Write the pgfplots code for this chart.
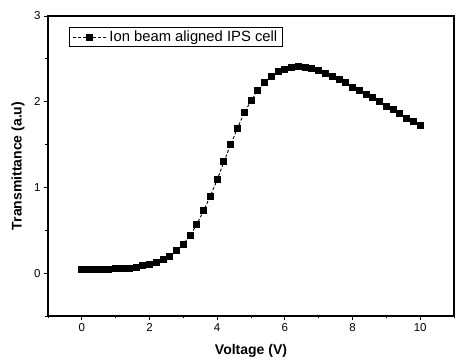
\documentclass[border=0pt]{standalone}
\usepackage{fontspec}
\setmainfont{Liberation Sans}
\usepackage{pgfplots}
\pgfplotsset{compat=1.18}
\begin{document}
\begin{tikzpicture}
\useasboundingbox (0,0) rectangle (456pt,361pt);
\begin{axis}[
  at={(48pt,45pt)}, anchor=south west,
  scale only axis, width=406pt, height=300pt,
  xmin=-1, xmax=11, ymin=-0.5, ymax=3,
  xtick={0,2,4,6,8,10}, minor xtick={-1,1,3,5,7,9,11},
  ytick={0,1,2,3}, minor ytick={-0.5,0.5,1.5,2.5},
  xtick pos=bottom, ytick pos=left,
  tick align=outside,
  major tick length=4pt, minor tick length=2.5pt,
  axis line style={line width=1.1pt},
  every tick/.style={black, line width=0.9pt},
  /pgf/number format/assume math mode=true,
  ticklabel style={font=\fontsize{11.5}{13}\selectfont},
  xlabel={\textbf{Voltage (V)}},
  ylabel={\textbf{Transmittance (a.u)}},
  label style={font=\fontsize{14}{16}\selectfont},
  xlabel style={at={(axis description cs:0.5,0)}, anchor=north, yshift=-25pt},
  ylabel style={at={(axis description cs:0,0.5)}, anchor=south, yshift=20pt},
  legend style={at={(axis description cs:0.052,0.963)}, anchor=north west,
    draw=black, line width=0.8pt, font=\fontsize{14.8}{16}\selectfont,
    inner xsep=3pt, inner ysep=1.5pt, row sep=0pt},
  legend cell align=left,
  legend image code/.code={
    \draw[#1, mark=none] (0pt,0pt) -- (34pt,0pt);
    \draw[#1, only marks] plot coordinates {(16pt,0pt)};
  },
]
\addplot[black, line width=0.9pt, dash pattern=on 3pt off 2pt,
  mark=square*, mark size=3pt, mark options={solid}] coordinates {
(0.0,0.04) (0.2,0.04) (0.4,0.04) (0.6,0.04) (0.8,0.045) (1.0,0.05)
(1.2,0.055) (1.4,0.06) (1.6,0.07) (1.8,0.085) (2.0,0.10) (2.2,0.125)
(2.4,0.16) (2.6,0.20) (2.8,0.26) (3.0,0.34) (3.2,0.44) (3.4,0.57)
(3.6,0.73) (3.8,0.90) (4.0,1.09) (4.2,1.30) (4.4,1.50) (4.6,1.69)
(4.8,1.87) (5.0,2.01) (5.2,2.13) (5.4,2.23) (5.6,2.30) (5.8,2.35)
(6.0,2.38) (6.2,2.40) (6.4,2.41) (6.6,2.40) (6.8,2.385) (7.0,2.36)
(7.2,2.33) (7.4,2.30) (7.6,2.26) (7.8,2.22) (8.0,2.17) (8.2,2.13)
(8.4,2.09) (8.6,2.05) (8.8,2.00) (9.0,1.95) (9.2,1.91) (9.4,1.86)
(9.6,1.81) (9.8,1.77) (10.0,1.72)
};
\addlegendentry{Ion beam aligned IPS cell}
\end{axis}
\end{tikzpicture}
\end{document}
